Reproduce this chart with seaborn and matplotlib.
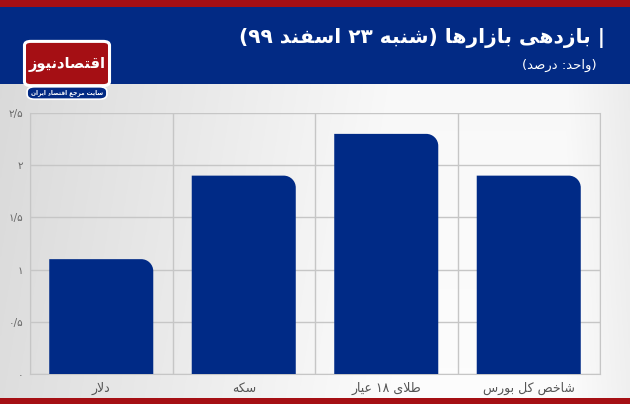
import numpy as np
import matplotlib
matplotlib.use("Agg")
import matplotlib.pyplot as plt
import seaborn as sns
from matplotlib.patches import FancyBboxPatch, PathPatch, Rectangle
from matplotlib.path import Path

# data
categories = ["دلار", "سکه", "طلای ۱۸ عیار", "شاخص کل بورس"]
values = [1.1, 1.9, 2.3, 1.9]
yticks = [0, 0.5, 1, 1.5, 2, 2.5]
ytick_labels = ["۰", "۰/۵", "۱", "۱/۵", "۲", "۲/۵"]
title = "| بازدهی بازارها (شنبه ۲۳ اسفند ۹۹)"
subtitle = "(واحد: درصد)"
logo_name = "اقتصادنیوز"
logo_tag = "سایت مرجع اقتصاد ایران"

NAVY = "#022a84"
RED = "#a50f14"
BAR = "#002a86"

# --- minimal Persian shaping (matplotlib has no bidi / joining) ---
FORMS = {
    "ا": ("\uFE8D", "\uFE8E", None, None),
    "ب": ("\uFE8F", "\uFE90", "\uFE91", "\uFE92"),
    "ت": ("\uFE95", "\uFE96", "\uFE97", "\uFE98"),
    "ج": ("\uFE9D", "\uFE9E", "\uFE9F", "\uFEA0"),
    "ح": ("\uFEA1", "\uFEA2", "\uFEA3", "\uFEA4"),
    "خ": ("\uFEA5", "\uFEA6", "\uFEA7", "\uFEA8"),
    "د": ("\uFEA9", "\uFEAA", None, None),
    "ر": ("\uFEAD", "\uFEAE", None, None),
    "ز": ("\uFEAF", "\uFEB0", None, None),
    "س": ("\uFEB1", "\uFEB2", "\uFEB3", "\uFEB4"),
    "ش": ("\uFEB5", "\uFEB6", "\uFEB7", "\uFEB8"),
    "ص": ("\uFEB9", "\uFEBA", "\uFEBB", "\uFEBC"),
    "ط": ("\uFEC1", "\uFEC2", "\uFEC3", "\uFEC4"),
    "ع": ("\uFEC9", "\uFECA", "\uFECB", "\uFECC"),
    "ف": ("\uFED1", "\uFED2", "\uFED3", "\uFED4"),
    "ق": ("\uFED5", "\uFED6", "\uFED7", "\uFED8"),
    "ل": ("\uFEDD", "\uFEDE", "\uFEDF", "\uFEE0"),
    "م": ("\uFEE1", "\uFEE2", "\uFEE3", "\uFEE4"),
    "ن": ("\uFEE5", "\uFEE6", "\uFEE7", "\uFEE8"),
    "ه": ("\uFEE9", "\uFEEA", "\uFEEB", "\uFEEC"),
    "و": ("\uFEED", "\uFEEE", None, None),
    "ی": ("\uFBFC", "\uFBFD", "\uFBFE", "\uFBFF"),
    "ک": ("\uFB8E", "\uFB8F", "\uFB90", "\uFB91"),
}
DIGITS = set("0123456789۰۱۲۳۴۵۶۷۸۹")
MIRROR = {"(": ")", ")": "("}


def shape(s):
    out = []
    i = 0
    n = len(s)
    while i < n:
        c = s[i]
        if c not in FORMS:
            out.append(c)
            i += 1
            continue
        prev = s[i - 1] if i > 0 else ""
        joins_prev = prev in FORMS and FORMS[prev][2] is not None
        if c == "ل" and i + 1 < n and s[i + 1] == "ا":
            out.append("\uFEFC" if joins_prev else "\uFEFB")
            i += 2
            continue
        nxt = s[i + 1] if i + 1 < n else ""
        joins_next = FORMS[c][2] is not None and nxt in FORMS
        iso, fin, ini, med = FORMS[c]
        if joins_prev and joins_next:
            out.append(med)
        elif joins_prev:
            out.append(fin)
        elif joins_next:
            out.append(ini)
        else:
            out.append(iso)
        i += 1
    return "".join(out)


def rtl(s):
    s = shape(s)
    runs = []
    for ch in s:
        isd = ch in DIGITS
        if runs and runs[-1][0] == isd:
            runs[-1][1] += ch
        else:
            runs.append([isd, ch])
    vis = []
    for isd, txt in reversed(runs):
        if isd:
            vis.append(txt)
        else:
            vis.append("".join(MIRROR.get(ch, ch) for ch in reversed(txt)))
    return "".join(vis)


sns.set_style("white")
plt.rcParams["font.family"] = ["DejaVu Sans"]

fig = plt.figure(figsize=(6.3, 4.04), dpi=100)

# background
bg = fig.add_axes([0, 0, 1, 1], zorder=-10)
xx = np.linspace(0, 1, 300)
yy = np.linspace(0, 1, 200)
X, Y = np.meshgrid(xx, yy)
shade = 0.85 + 0.12 * np.clip(X * 1.6, 0, 1) - 0.05 * np.clip((X - 0.9) * 10, 0, 1) + 0.02 * (1 - Y)
bg.imshow(np.dstack([shade] * 3), extent=[0, 1, 0, 1], aspect="auto", origin="lower")
bg.add_patch(Rectangle((0, 1 - 84 / 404), 1, 84 / 404, color=NAVY, lw=0))
bg.add_patch(Rectangle((0, 1 - 7 / 404), 1, 7 / 404, color=RED, lw=0))
bg.add_patch(Rectangle((0, 0), 1, 6 / 404, color=RED, lw=0))
bg.set_xlim(0, 1)
bg.set_ylim(0, 1)
bg.axis("off")

# logo
bg.add_patch(FancyBboxPatch((27 / 630, 1 - 84 / 404), 80 / 630, 41 / 404,
                            boxstyle="round,pad=0.004,rounding_size=0.01",
                            fc=RED, ec="white", lw=2.2))
bg.text(67 / 630, 1 - 64 / 404, rtl(logo_name), color="white", fontsize=10.5,
        fontweight="bold", ha="center", va="center")
bg.add_patch(FancyBboxPatch((29 / 630, 1 - 98 / 404), 76 / 630, 10 / 404,
                            boxstyle="round,pad=0.003,rounding_size=0.012",
                            fc=NAVY, ec="white", lw=1.2))
bg.text(67 / 630, 1 - 93 / 404, rtl(logo_tag), color="white", fontsize=4.2,
        fontweight="bold", ha="center", va="center")

# titles
bg.text(605 / 630, 1 - 38 / 404, rtl(title), color="white", fontsize=14.5,
        fontweight="bold", ha="right", va="center")
bg.text(597 / 630, 1 - 65 / 404, rtl(subtitle), color="white", fontsize=9.5,
        ha="right", va="center")

# chart
ax = fig.add_axes([30 / 630, 30 / 404, 570 / 630, 261 / 404])
ax.patch.set_alpha(0)
sns.barplot(x=categories, y=values, order=categories, color=BAR, width=0.73,
            saturation=1, ax=ax, zorder=3)
ax.set_xlim(-0.5, len(categories) - 0.5)
ax.set_ylim(0, 2.5)

# round the top-right corner of every bar
fig.canvas.draw()
bb = ax.get_window_extent()
r_px = 12
rx = r_px * (len(categories)) / bb.width
ry = r_px * 2.5 / bb.height
k = 0.5523
for p in list(ax.patches):
    x0, w, h = p.get_x(), p.get_width(), p.get_height()
    verts = [(x0, 0), (x0, h), (x0 + w - rx, h),
             (x0 + w - rx + k * rx, h), (x0 + w, h - ry + k * ry), (x0 + w, h - ry),
             (x0 + w, 0), (x0, 0)]
    codes = [Path.MOVETO, Path.LINETO, Path.LINETO,
             Path.CURVE4, Path.CURVE4, Path.CURVE4,
             Path.LINETO, Path.CLOSEPOLY]
    p.set_visible(False)
    ax.add_patch(PathPatch(Path(verts, codes), fc=BAR, ec="none", zorder=3))

ax.set_yticks(yticks)
ax.set_yticklabels(ytick_labels, color="#666666", fontsize=7.5)
ax.set_xticks(range(len(categories)))
ax.set_xticklabels([rtl(c) for c in categories], color="#555555", fontsize=9)
ax.set_xticks(np.arange(-0.5, len(categories), 1), minor=True)
ax.yaxis.grid(True, color="#c6c6c6", lw=1, zorder=0)
ax.xaxis.grid(True, which="minor", color="#c6c6c6", lw=1, zorder=0)
ax.tick_params(axis="both", which="both", length=0)
ax.tick_params(axis="y", pad=5)
ax.tick_params(axis="x", pad=6)
ax.set_xlabel("")
ax.set_ylabel("")
for side in ["left", "right", "bottom"]:
    ax.spines[side].set_color("#c6c6c6")
ax.spines["top"].set_visible(False)

fig.savefig("out.png", dpi=100)
